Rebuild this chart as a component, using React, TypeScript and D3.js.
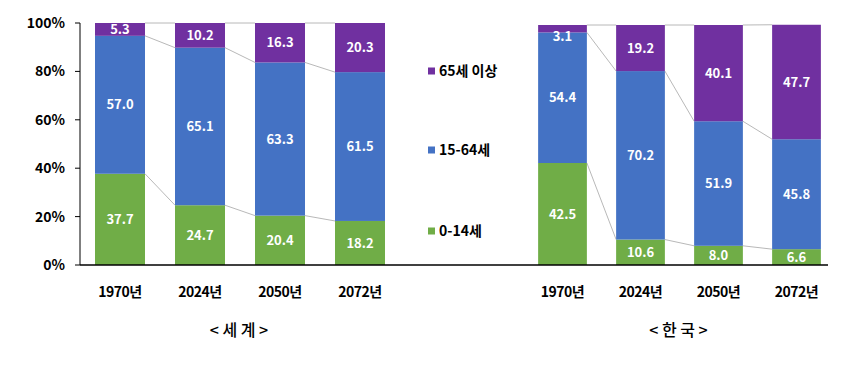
import React from "react";
import * as d3 from "d3";

const years = ["1970년", "2024년", "2050년", "2072년"];
const worldChild = [37.7, 24.7, 20.4, 18.2];
const worldWork = [57.0, 65.1, 63.3, 61.5];
const worldOld = [5.3, 10.2, 16.3, 20.3];
const koreaChild = [42.5, 10.6, 8.0, 6.6];
const koreaWork = [54.4, 70.2, 51.9, 45.8];
const koreaOld = [3.1, 19.2, 40.1, 47.7];
const seriesNames = ["0-14세", "15-64세", "65세 이상"];
const legendOrder = ["65세 이상", "15-64세", "0-14세"];
const yTicks = [0, 20, 40, 60, 80, 100];
const groupTitles = ["< 세 계 >", "< 한 국 >"];

const COLORS: Record<string, string> = {
  "0-14세": "#70AD47",
  "15-64세": "#4472C4",
  "65세 이상": "#7030A0",
};

const FONT = "'Noto Sans CJK KR', 'Noto Sans', sans-serif";

type Panel = {
  child: number[];
  work: number[];
  old: number[];
  xRange: [number, number];
  yTop: number;
  title: string;
};

const panels: Panel[] = [
  { child: worldChild, work: worldWork, old: worldOld, xRange: [80, 400], yTop: 23, title: groupTitles[0] },
  { child: koreaChild, work: koreaWork, old: koreaOld, xRange: [523.5, 835.5], yTop: 25, title: groupTitles[1] },
];

const BASE = 265;

function PanelView({ p }: { p: Panel }) {
  const x = d3.scaleBand<string>().domain(years).range(p.xRange).paddingInner(0.375).paddingOuter(0.1875);
  const y = d3.scaleLinear().domain([0, 100]).range([BASE, p.yTop]);
  const rows = years.map((yr, i) => ({
    yr,
    "0-14세": p.child[i],
    "15-64세": p.work[i],
    "65세 이상": p.old[i],
  }));
  const stack = d3.stack<any>().keys(seriesNames);
  const layers = stack(rows);
  const bw = x.bandwidth();
  const fmt = (v: number) => v.toFixed(1);

  const connectors: JSX.Element[] = [];
  layers.forEach((layer, li) => {
    for (let i = 0; i < years.length - 1; i++) {
      const x1 = (x(years[i]) as number) + bw;
      const x2 = x(years[i + 1]) as number;
      connectors.push(
        <line key={`c${li}-${i}`} x1={x1} x2={x2} y1={y(layer[i][1])} y2={y(layer[i + 1][1])} stroke="#a6a6a6" strokeWidth={0.8} />
      );
    }
  });

  const cx = (p.xRange[0] + p.xRange[1]) / 2;

  return (
    <g>
      {connectors}
      {layers.map((layer) =>
        layer.map((d, i) => {
          const x0 = x(years[i]) as number;
          const y0 = y(d[1]);
          const h = y(d[0]) - y(d[1]);
          const ty = h < 10 ? y0 + h + 3.5 : y0 + h / 2;
          return (
            <g key={`${layer.key}-${i}`}>
              <rect x={x0} y={y0} width={bw} height={h} fill={COLORS[layer.key]} />
              <text
                x={x0 + bw / 2}
                y={ty}
                dy="0.36em"
                textAnchor="middle"
                fill="#fff"
                fontSize={13}
                fontWeight="bold"
                fontFamily={FONT}
              >
                {fmt(d[1] - d[0])}
              </text>
            </g>
          );
        })
      )}
      {years.map((yr) => (
        <text
          key={yr}
          x={(x(yr) as number) + bw / 2}
          y={292}
          dy="0.36em"
          textAnchor="middle"
          fontSize={14}
          fontWeight="bold"
          fontFamily={FONT}
          fill="#000"
          letterSpacing={-0.5}
        >
          {yr}
        </text>
      ))}
      <text x={cx - 1} y={330} dy="0.36em" textAnchor="middle" fontSize={16} fontWeight={500} fontFamily={FONT} fill="#000">
        {p.title}
      </text>
    </g>
  );
}

export default function App() {
  const yLeft = d3.scaleLinear().domain([0, 100]).range([BASE, 23]);
  return (
    <svg width={856} height={381} style={{ position: "absolute", left: 0, top: 0, background: "#fff" }}>
      <rect x={0} y={0} width={856} height={381} fill="#fff" />
      {panels.map((p, i) => (
        <PanelView key={i} p={p} />
      ))}
      <line x1={80} x2={80} y1={yLeft(100)} y2={BASE} stroke="#000" strokeWidth={1} />
      {yTicks.map((t) => (
        <g key={t}>
          <line x1={75} x2={80} y1={yLeft(t)} y2={yLeft(t)} stroke="#000" strokeWidth={1} />
          <text
            x={65}
            y={yLeft(t)}
            dy="0.36em"
            textAnchor="end"
            fontSize={14}
            fontWeight="bold"
            fontFamily={FONT}
            fill="#000"
          >
            {t}%
          </text>
        </g>
      ))}
      <line x1={80} x2={828} y1={BASE} y2={BASE} stroke="#000" strokeWidth={1.5} />
      {legendOrder.map((name, i) => {
        const ly = [71, 150, 231][i];
        return (
          <g key={name}>
            <rect x={428} y={ly - 3.5} width={7} height={7} fill={COLORS[name]} />
            <text x={439} y={ly} dy="0.36em" fontSize={14} fontWeight="bold" fontFamily={FONT} fill="#000">
              {name}
            </text>
          </g>
        );
      })}
    </svg>
  );
}
